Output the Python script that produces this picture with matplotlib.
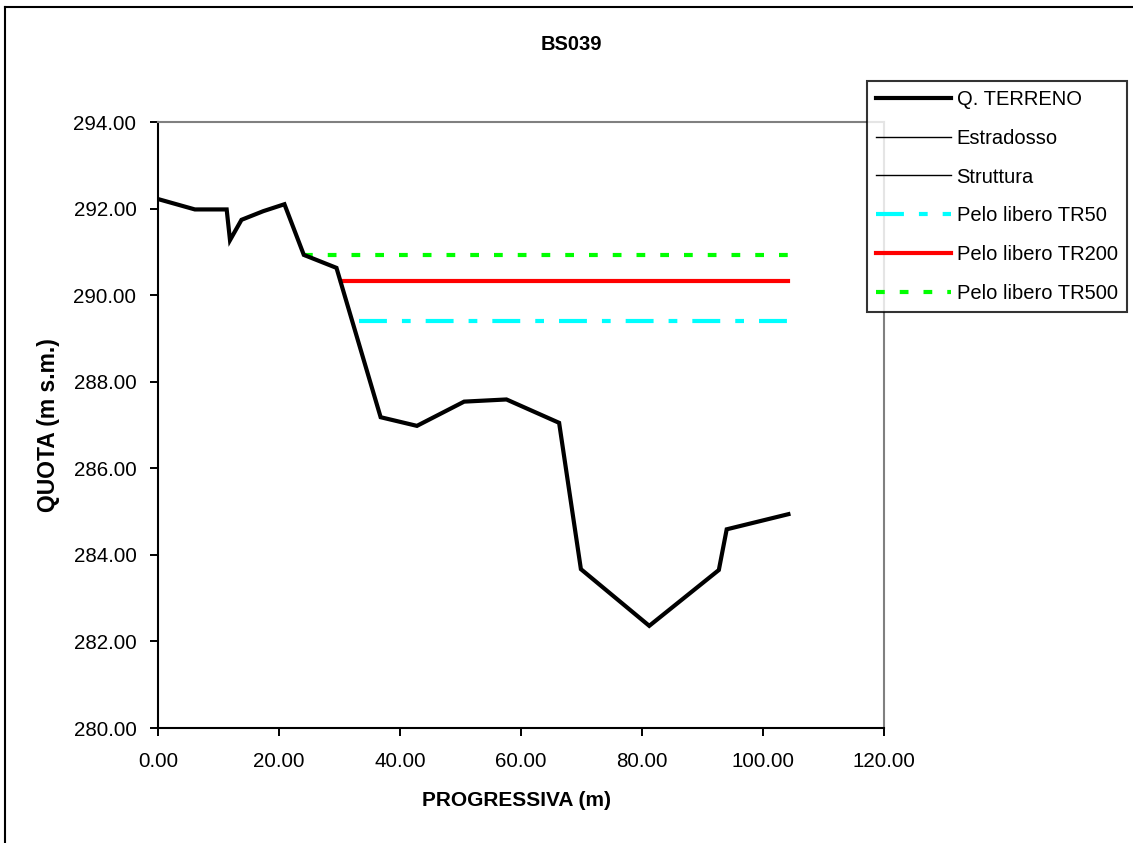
import matplotlib
matplotlib.use("Agg")
import matplotlib.pyplot as plt
from matplotlib.lines import Line2D
from matplotlib.ticker import FormatStrFormatter

plt.rcParams['font.family'] = ['Liberation Sans', 'DejaVu Sans']

# Terrain profile
prog = [0.0, 6.1, 11.35, 11.9, 13.8, 17.4, 20.9, 24.1, 29.5, 36.8, 42.8,
        50.6, 57.6, 66.3, 69.9, 81.2, 92.7, 94.0, 104.2]
quota = [292.22, 291.98, 291.98, 291.27, 291.74, 291.94, 292.10, 290.93, 290.63,
         287.18, 286.98, 287.54, 287.59, 287.05, 283.67, 282.36, 283.65, 284.59, 284.94]

# Water levels (start, end, level)
tr50_x = [33.2, 104.2]
tr50_y = [289.40, 289.40]
tr200_x = [30.2, 104.2]
tr200_y = [290.33, 290.33]
tr500_x = [24.1, 104.2]
tr500_y = [290.93, 290.93]

W, H = 1133, 843
fig = plt.figure(figsize=(W / 100, H / 100), dpi=100)
ax = fig.add_axes([158 / W, 1 - 728 / H, (884 - 158) / W, (728 - 122) / H])

ax.plot(prog, quota, color='black', lw=3, solid_joinstyle='miter', zorder=5)
ax.plot(tr50_x, tr50_y, color='#00FFFF', lw=3, dashes=(6.7, 3.6, 2.1, 3.6),
        dash_capstyle='butt', zorder=4)
ax.plot(tr200_x, tr200_y, color='#FF0000', lw=3, zorder=4)
ax.plot(tr500_x, tr500_y, color='#00FF00', lw=3, dashes=(2.1, 3.6),
        dash_capstyle='butt', zorder=4)

ax.set_xlim(0, 120)
ax.set_ylim(280, 294)
ax.set_xticks(range(0, 121, 20))
ax.set_yticks(range(280, 295, 2))
ax.xaxis.set_major_formatter(FormatStrFormatter('%.2f'))
ax.yaxis.set_major_formatter(FormatStrFormatter('%.2f'))
ax.tick_params(axis='both', direction='out', length=6, width=1.4, labelsize=14.8,
               colors='black')
ax.tick_params(axis='x', pad=11)
ax.tick_params(axis='y', pad=9.5)

for s in ['left', 'bottom']:
    ax.spines[s].set_color('black')
    ax.spines[s].set_linewidth(1.5)
for s in ['top', 'right']:
    ax.spines[s].set_color('#808080')
    ax.spines[s].set_linewidth(1.5)

fig.text(571 / W, 1 - 44.5 / H, 'BS039', ha='center', va='center',
         fontsize=14.5, fontweight='bold')
fig.text(517 / W, 1 - 801 / H, 'PROGRESSIVA (m)', ha='center', va='center',
         fontsize=15, fontweight='bold')
fig.text(48 / W, 1 - 425 / H, 'QUOTA (m s.m.)', ha='center', va='center',
         rotation=90, fontsize=16.5, fontweight='bold')

handles = [
    Line2D([], [], color='black', lw=3),
    Line2D([], [], color='black', lw=1),
    Line2D([], [], color='black', lw=1),
    Line2D([], [], color='#00FFFF', lw=3, dashes=(6.7, 3.6, 2.1, 3.6), dash_capstyle='butt'),
    Line2D([], [], color='#FF0000', lw=3),
    Line2D([], [], color='#00FF00', lw=3, dashes=(2.1, 3.6), dash_capstyle='butt'),
]
labels = ['Q. TERRENO', 'Estradosso', 'Struttura', 'Pelo libero TR50',
          'Pelo libero TR200', 'Pelo libero TR500']
leg = fig.legend(handles, labels, loc='upper left',
                 bbox_to_anchor=(867 / W, 1 - 81 / H), fontsize=14.5,
                 frameon=True, fancybox=False, edgecolor='black',
                 handlelength=3.7, handletextpad=0.3, labelspacing=0.98,
                 borderpad=0.45, borderaxespad=0)
leg.get_frame().set_linewidth(1.5)

# outer chart border
fig.add_artist(plt.Line2D([5 / W, 5 / W], [0, 1 - 7 / H], color='black', lw=1.5,
                          transform=fig.transFigure))
fig.add_artist(plt.Line2D([5 / W, 1], [1 - 7 / H, 1 - 7 / H], color='black', lw=1.5,
                          transform=fig.transFigure))

fig.savefig('out.png', dpi=100, facecolor='white')
